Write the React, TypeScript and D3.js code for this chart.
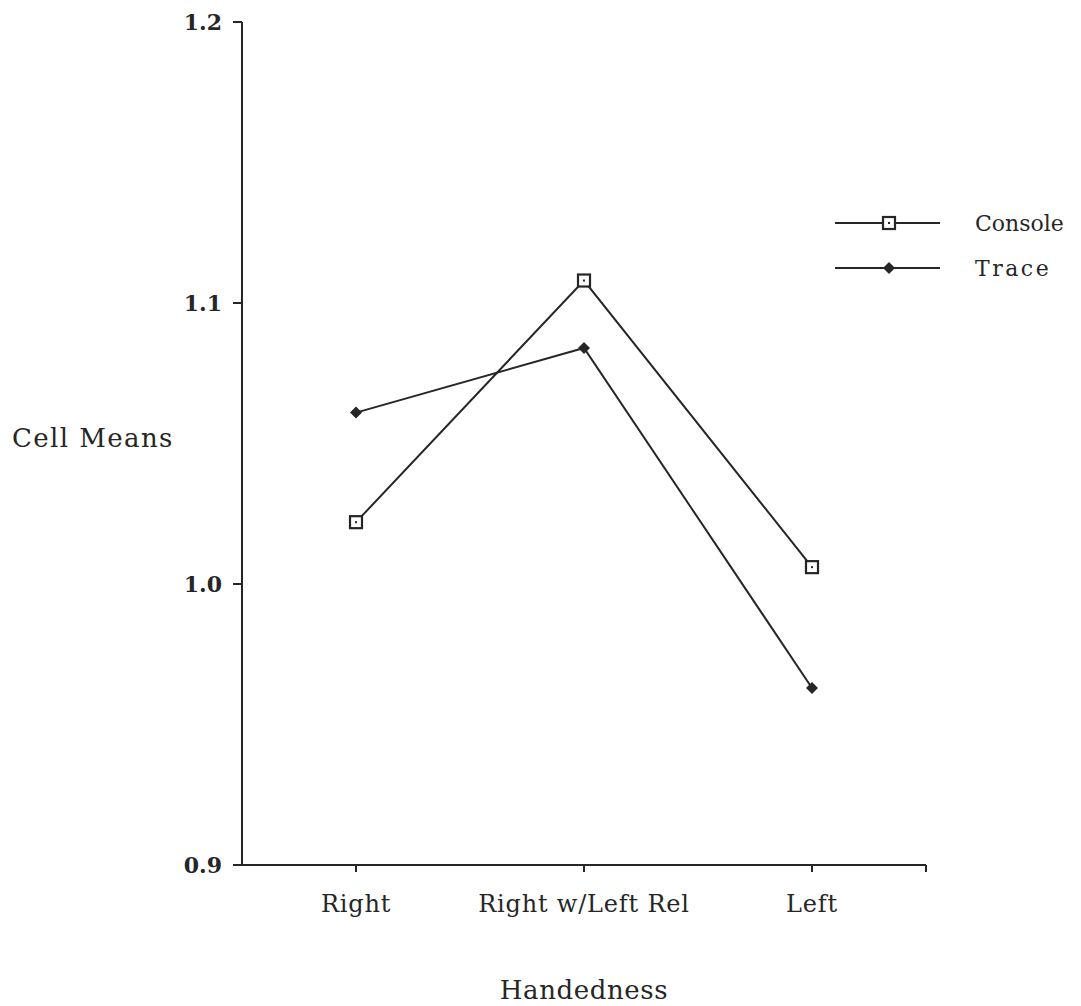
import React from "react";
import * as d3 from "d3";

const categories = ["Right", "Right w/Left Rel", "Left"];
const consoleValues = [1.022, 1.108, 1.006];
const traceValues = [1.061, 1.084, 0.963];
const yTicks = [0.9, 1.0, 1.1, 1.2];
const seriesNames = ["Console", "Trace"];

const W = 1081;
const H = 1006;
const FONT = "'DejaVu Serif', serif";
const INK = "#262626";

export default function App() {
  const x = d3.scalePoint<string>().domain(categories).range([242, 926]).padding(0.5);
  const y = d3.scaleLinear().domain([0.9, 1.2]).range([865, 22]);
  const line = d3
    .line<number>()
    .x((_, i) => x(categories[i]) as number)
    .y((v) => y(v));

  const square = (cx: number, cy: number, key: string) => (
    <g key={key}>
      <rect x={cx - 6} y={cy - 6} width={12} height={12} fill="#fff" stroke={INK} strokeWidth={2.2} />
      <rect x={cx - 1} y={cy - 1} width={2} height={2} fill={INK} />
    </g>
  );
  const diamond = (cx: number, cy: number, key: string) => (
    <path
      key={key}
      d={`M${cx},${cy - 6}L${cx + 6},${cy}L${cx},${cy + 6}L${cx - 6},${cy}Z`}
      fill={INK}
    />
  );

  const legendY = [223, 268];

  return (
    <svg
      width={W}
      height={H}
      style={{ position: "absolute", left: 0, top: 0, background: "#fff" }}
    >
      <rect width={W} height={H} fill="#fff" />
      {/* y axis */}
      <line x1={242} x2={242} y1={y(1.2)} y2={y(0.9)} stroke={INK} strokeWidth={2} />
      {yTicks.map((t) => (
        <g key={t}>
          <line x1={233} x2={242} y1={y(t)} y2={y(t)} stroke={INK} strokeWidth={2} />
          <text
            x={222}
            y={y(t)}
            dy="0.36em"
            textAnchor="end"
            fontFamily={FONT}
            fontSize={22}
            fontWeight="bold"
            fill={INK}
          >
            {d3.format(".1f")(t)}
          </text>
        </g>
      ))}
      {/* x axis */}
      <line x1={242} x2={926} y1={y(0.9)} y2={y(0.9)} stroke={INK} strokeWidth={2} />
      <line x1={926} x2={926} y1={y(0.9)} y2={y(0.9) + 7} stroke={INK} strokeWidth={2} />
      {categories.map((c) => (
        <g key={c}>
          <line
            x1={x(c)}
            x2={x(c)}
            y1={y(0.9)}
            y2={y(0.9) + 7}
            stroke={INK}
            strokeWidth={2}
          />
          <text
            x={x(c)}
            y={903}
            dy="0.36em"
            textAnchor="middle"
            fontFamily={FONT}
            fontSize={24}
            letterSpacing={0.8}
            fill={INK}
          >
            {c}
          </text>
        </g>
      ))}
      <text
        x={12}
        y={438}
        dy="0.36em"
        fontFamily={FONT}
        fontSize={26}
        letterSpacing={1.4}
        fill={INK}
      >
        Cell Means
      </text>
      <text
        x={584}
        y={990}
        dy="0.36em"
        textAnchor="middle"
        fontFamily={FONT}
        fontSize={26}
        letterSpacing={0.6}
        fill={INK}
      >
        Handedness
      </text>

      {/* series */}
      <path d={line(consoleValues) as string} fill="none" stroke={INK} strokeWidth={2} />
      <path d={line(traceValues) as string} fill="none" stroke={INK} strokeWidth={2} />
      {consoleValues.map((v, i) => square(x(categories[i]) as number, y(v), "c" + i))}
      {traceValues.map((v, i) => diamond(x(categories[i]) as number, y(v), "t" + i))}

      {/* legend */}
      {seriesNames.map((name, i) => (
        <g key={name}>
          <line x1={835} x2={940} y1={legendY[i]} y2={legendY[i]} stroke={INK} strokeWidth={2} />
          {i === 0 ? square(889, legendY[i], "lc") : diamond(889, legendY[i], "lt")}
          <text
            x={975}
            y={legendY[i]}
            dy="0.36em"
            fontFamily={FONT}
            fontSize={22}
            letterSpacing={i === 0 ? 0 : 2.5}
            fill={INK}
          >
            {name}
          </text>
        </g>
      ))}
    </svg>
  );
}
